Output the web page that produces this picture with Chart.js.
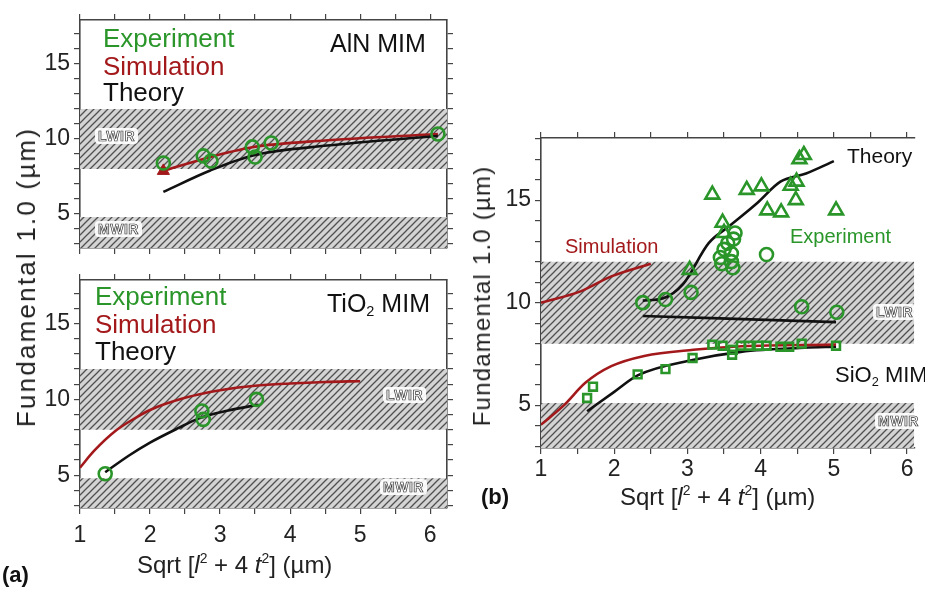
<!DOCTYPE html>
<html>
<head>
<meta charset="utf-8">
<script src="https://cdn.jsdelivr.net/npm/chart.js@4"></script>
<style>
  body { margin: 0; background: #fff; width: 925px; height: 590px; position: relative; overflow: hidden;
         font-family: "Liberation Sans", Arial, sans-serif; }
  .box { position: absolute; }
  .t { position: absolute; white-space: nowrap; line-height: 1; }
  .t sup { font-size: 58%; line-height: 0; vertical-align: 0.75em; }
  .t sub { font-size: 58%; line-height: 0; vertical-align: -0.3em; }
  .band { position: absolute; white-space: nowrap; line-height: 1; font-size: 14px; font-weight: bold;
          color: #fff; -webkit-text-stroke: 0.7px #333; background: rgba(255,255,255,0.92);
          padding: 1px 3px; border-radius: 4px; letter-spacing: 0.5px; }
  .ytitle { position: absolute; white-space: nowrap; line-height: 1; transform: translate(-50%, -50%) rotate(-90deg); }
</style>
</head>
<body>
<div class="box" style="left:0;top:0;width:470px;height:270px"><canvas id="aln"></canvas></div>
<div class="box" style="left:0;top:260px;width:470px;height:290px"><canvas id="tio"></canvas></div>
<div class="box" style="left:470px;top:118px;width:455px;height:372px"><canvas id="sio"></canvas></div>

<!-- (a) AlN -->
<div class="t" style="left:103px;top:25px;font-size:26px;color:#2a962a">Experiment</div>
<div class="t" style="left:103px;top:53px;font-size:26px;color:#a3191b">Simulation</div>
<div class="t" style="left:103px;top:79px;font-size:26px;color:#111">Theory</div>
<div class="t" style="left:330px;top:31px;font-size:25px;color:#111">AlN MIM</div>
<div class="band" style="left:95px;top:128px">LWIR</div>
<div class="band" style="left:95px;top:221px">MWIR</div>

<!-- (a) TiO2 -->
<div class="t" style="left:95px;top:283px;font-size:26px;color:#2a962a">Experiment</div>
<div class="t" style="left:95px;top:311px;font-size:26px;color:#a3191b">Simulation</div>
<div class="t" style="left:95px;top:338px;font-size:26px;color:#111">Theory</div>
<div class="t" style="left:327px;top:291px;font-size:25px;color:#111">TiO<sub>2</sub> MIM</div>
<div class="band" style="left:383px;top:387px">LWIR</div>
<div class="band" style="left:380px;top:479px">MWIR</div>

<div class="ytitle" style="left:26px;top:277px;font-size:26px;letter-spacing:2.2px;color:#222">Fundamental 1.0 (µm)</div>
<div class="t" style="left:137px;top:553px;font-size:24px;color:#222">Sqrt [<i>l</i><sup>2</sup> + 4 <i>t</i><sup>2</sup>] (µm)</div>
<div class="t" style="left:2px;top:564px;font-size:22px;font-weight:bold;color:#111">(a)</div>

<!-- (b) SiO2 -->
<div class="t" style="left:847px;top:145px;font-size:21px;color:#111">Theory</div>
<div class="t" style="left:790px;top:226px;font-size:20px;color:#2a962a">Experiment</div>
<div class="t" style="left:565px;top:236px;font-size:20px;color:#a3191b">Simulation</div>
<div class="t" style="left:835px;top:364px;font-size:22px;color:#111">SiO<sub>2</sub> MIM</div>
<div class="band" style="left:873px;top:304px">LWIR</div>
<div class="band" style="left:875px;top:413px">MWIR</div>

<div class="ytitle" style="left:482px;top:296px;font-size:24px;letter-spacing:1.2px;color:#222">Fundamental 1.0 (µm)</div>
<div class="t" style="left:620px;top:485px;font-size:24px;color:#222">Sqrt [<i>l</i><sup>2</sup> + 4 <i>t</i><sup>2</sup>] (µm)</div>
<div class="t" style="left:481px;top:486px;font-size:22px;font-weight:bold;color:#111">(b)</div>

<script>
// (a) AlN MIM
var alnExpX = [2.19, 2.76, 2.87, 3.46, 3.50, 3.73, 6.11];
var alnExpY = [8.40, 8.87, 8.53, 9.47, 8.80, 9.73, 10.33];
var alnSimX = [2.19, 2.76, 3.46, 4.50, 6.11];
var alnSimY = [7.87, 8.67, 9.45, 9.90, 10.33];
var alnTheoX = [2.19, 2.86, 3.47, 4.53, 6.11];
var alnTheoY = [6.47, 7.90, 8.90, 9.56, 10.20];

// (a) TiO2 MIM
var tioExpX = [1.36, 2.74, 2.76, 3.52];
var tioExpY = [5.10, 9.23, 8.68, 10.00];
var tioSimX = [1.0, 1.2, 1.5, 1.8, 2.0, 2.5, 3.0, 3.5, 4.0, 4.5, 5.0];
var tioSimY = [5.5, 6.6, 7.9, 8.8, 9.3, 10.1, 10.6, 10.9, 11.05, 11.15, 11.2];
var tioTheoX = [1.36, 1.7, 2.0, 2.4, 2.7, 3.1, 3.55];
var tioTheoY = [5.2, 6.3, 7.15, 8.1, 8.75, 9.25, 9.65];

// (b) SiO2 MIM
var sioTriX = [3.03, 3.34, 3.48, 3.50, 3.81, 4.01, 4.09, 4.28, 4.41, 4.48, 4.49, 4.53, 4.59, 5.03];
var sioTriY = [11.6, 15.27, 13.9, 13.4, 15.5, 15.67, 14.5, 14.4, 15.7, 15.0, 15.9, 17.0, 17.2, 14.5];
var sioCircX = [2.39, 2.70, 3.05, 3.45, 3.47, 3.50, 3.55, 3.60, 3.62, 3.63, 3.65, 3.60, 4.08, 4.56, 5.04];
var sioCircY = [10.0, 10.15, 10.5, 12.2, 11.9, 12.6, 12.9, 12.0, 11.7, 13.1, 13.4, 12.4, 12.35, 9.8, 9.53];
var sioSqX = [1.63, 1.71, 2.32, 2.70, 3.07, 3.34, 3.48, 3.61, 3.62, 3.73, 3.84, 3.97, 4.08, 4.27, 4.39, 4.56, 5.03];
var sioSqY = [5.35, 5.9, 6.5, 6.76, 7.3, 7.95, 7.9, 7.46, 7.7, 7.9, 7.9, 7.9, 7.9, 7.85, 7.85, 8.0, 7.9];
var sioSimLoX = [1.0, 1.3, 1.61, 1.96, 2.41, 3.08, 3.74, 5.03];
var sioSimLoY = [4.05, 4.95, 6.1, 6.9, 7.4, 7.7, 7.87, 7.95];
var sioSimHiX = [1.0, 1.54, 1.96, 2.5];
var sioSimHiY = [10.0, 10.55, 11.28, 11.9];
var sioTheoLoX = [1.63, 2.0, 2.32, 3.07, 3.73, 4.6, 5.03];
var sioTheoLoY = [4.7, 5.65, 6.45, 7.2, 7.6, 7.8, 7.85];
var sioTheoMidX = [2.39, 5.03];
var sioTheoMidY = [9.35, 9.05];
var sioTheoHiX = [2.39, 2.66, 2.94, 3.29, 3.56, 3.95, 4.27, 4.62, 5.0];
var sioTheoHiY = [10.1, 10.2, 10.9, 12.9, 13.7, 14.85, 15.9, 16.3, 16.9];

// wavelength bands (µm)
var lwir = [8, 12];
var mwirTopA = 4.8;
var mwirTopB = 5.1;

var FONT = '"Liberation Sans", Arial, sans-serif';
var green = '#2a962a', red = '#a3191b', black = '#111';

function hatch() {
  var c = document.createElement('canvas');
  c.width = 7; c.height = 7;
  var g = c.getContext('2d');
  g.fillStyle = '#d4d4d4';
  g.fillRect(0, 0, 7, 7);
  g.strokeStyle = '#505050';
  g.lineWidth = 1.3;
  g.beginPath();
  g.moveTo(-1, 8); g.lineTo(8, -1);
  g.moveTo(-1, 1); g.lineTo(1, -1);
  g.moveTo(6, 8); g.lineTo(8, 6);
  g.stroke();
  return g.createPattern(c, 'repeat');
}
var pat = hatch();

function pts(xs, ys) { return xs.map(function (x, i) { return {x: x, y: ys[i]}; }); }

function band(lo, hi, xr) {
  return {data: [{x: xr[0], y: hi}, {x: xr[1], y: hi}], showLine: true, borderWidth: 0,
    borderColor: 'rgba(0,0,0,0)', pointRadius: 0, backgroundColor: pat,
    fill: lo === null ? 'start' : {value: lo}, order: 10};
}
function curve(xs, ys, color) {
  return {data: pts(xs, ys), showLine: true, borderColor: color, borderWidth: 2.6, pointRadius: 0,
    tension: 0.4, cubicInterpolationMode: 'monotone', fill: false, order: 3};
}
function marks(xs, ys, style, r) {
  return {data: pts(xs, ys), showLine: false, pointStyle: style, pointRadius: r, borderColor: green,
    borderWidth: 2.6, backgroundColor: 'rgba(0,0,0,0)', order: 1};
}

function axis(pos, lim, step, fit, labels, pad) {
  var horiz = pos === 'top' || pos === 'bottom';
  return {
    type: 'linear', position: pos, min: lim[0], max: lim[1],
    border: {display: true, color: '#444', width: 1.6},
    grid: {drawOnChartArea: false, drawTicks: true, tickLength: 6, color: '#444', lineWidth: 1.2},
    ticks: {stepSize: step, autoSkip: false, includeBounds: false, maxRotation: 0, padding: pad || 3,
      color: '#222', font: {size: 23, family: FONT},
      callback: function (v) {
        if (!labels) return '';
        if (horiz) return Number.isInteger(v) ? v : '';
        return v % 5 === 0 ? v : '';
      }},
    afterFit: function (s) { if (horiz) s.height = fit; else s.width = fit; }
  };
}

function panel(id, xr, yr, sets, m) {
  var scales = {
    x: axis('bottom', xr, 0.5, m.bottom, m.xlab, m.xpad),
    y: axis('left', yr, 1, m.left, true, 4),
    x2: axis('top', xr, 0.5, m.top, false)
  };
  if (m.right) scales.y2 = axis('right', yr, 1, m.right, false);
  return new Chart(document.getElementById(id), {
    type: 'scatter',
    data: {datasets: sets},
    options: {
      responsive: true, maintainAspectRatio: false, animation: false,
      layout: {padding: 0},
      plugins: {legend: {display: false}, tooltip: {enabled: false}},
      scales: scales
    }
  });
}

var xA = [1, 6.24];
panel('aln', xA, [2.73, 17.93], [
  band(lwir[0], lwir[1], xA), band(null, mwirTopA, xA),
  curve(alnTheoX, alnTheoY, black),
  curve(alnSimX, alnSimY, red),
  {data: pts([alnSimX[0]], [alnSimY[0]]), showLine: false, pointStyle: 'triangle', pointRadius: 7,
    backgroundColor: red, borderColor: red, borderWidth: 1, order: 2},
  marks(alnExpX, alnExpY, 'circle', 6.5)
], {left: 80, right: 23, top: 20, bottom: 22, xlab: false, xpad: 8});

panel('tio', xA, [2.84, 17.87], [
  band(lwir[0], lwir[1], xA), band(null, mwirTopA, xA),
  curve(tioSimX, tioSimY, red),
  curve(tioTheoX, tioTheoY, black),
  marks(tioExpX, tioExpY, 'circle', 6.5)
], {left: 80, right: 23, top: 20, bottom: 42, xlab: true, xpad: 8});

var xB = [1, 6.1];
panel('sio', xB, [2.91, 18.03], [
  band(lwir[0], lwir[1], xB), band(null, mwirTopB, xB),
  curve(sioSimLoX, sioSimLoY, red),
  curve(sioSimHiX, sioSimHiY, red),
  curve(sioTheoLoX, sioTheoLoY, black),
  curve(sioTheoMidX, sioTheoMidY, black),
  curve(sioTheoHiX, sioTheoHiY, black),
  marks(sioSqX, sioSqY, 'rect', 5.5),
  marks(sioCircX, sioCircY, 'circle', 6.5),
  marks(sioTriX, sioTriY, 'triangle', 8)
], {left: 71, right: 0, top: 20, bottom: 42, xlab: true, xpad: 2});
</script>
</body>
</html>
